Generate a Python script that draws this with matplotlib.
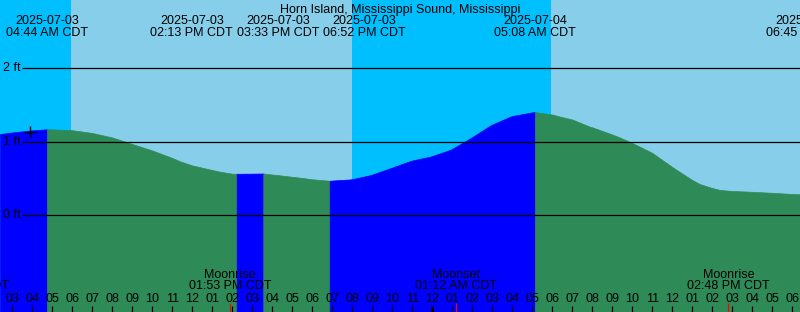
import matplotlib
matplotlib.use("Agg")
import matplotlib.pyplot as plt
import matplotlib.transforms as mtransforms
import numpy as np

TITLE = "Horn Island, Mississippi Sound, Mississippi"

# Hours since 2025-07-03 00:00 CDT and predicted tide height (ft)
sample_hours = [2.385, 3, 4, 5, 6, 7, 8, 9, 10, 11, 11.385, 12, 12.385, 13, 13.385, 14,
                15, 16, 16.385, 17, 17.385, 18, 19, 19.885, 20, 20.885, 21, 21.885, 22,
                22.885, 23, 23.885, 24, 24.885, 25, 25.885, 26, 26.885, 27, 27.885, 28,
                29, 30, 30.385, 31, 31.885, 32, 33, 33.385, 34, 34.885, 35, 36, 36.385,
                37, 37.385, 38, 38.385, 39, 39.885, 40, 41, 42, 42.385]
sample_heights = [1.106, 1.127, 1.156, 1.169, 1.158, 1.120, 1.059, 0.970, 0.882, 0.780,
                  0.735, 0.678, 0.655, 0.616, 0.593, 0.566,
                  0.567, 0.555, 0.544, 0.524, 0.512, 0.490, 0.473, 0.488, 0.492, 0.545,
                  0.555, 0.639, 0.650,
                  0.737, 0.746, 0.797, 0.807, 0.890, 0.905, 1.046, 1.065, 1.219, 1.235,
                  1.341, 1.351,
                  1.401, 1.371, 1.343, 1.303, 1.205, 1.197, 1.099, 1.058, 0.984, 0.865,
                  0.848, 0.657, 0.588,
                  0.480, 0.424, 0.371, 0.345, 0.331, 0.321, 0.320, 0.306, 0.290, 0.286]

# Tide extremes
extreme_hours = [4.733, 14.217, 15.55, 18.867, 29.133, 42.75]
extreme_heights = [1.170, 0.565, 0.569, 0.470, 1.404, 0.28]
extreme_types = ["H", "L", "H", "L", "H", "L"]
extreme_dates = ["2025-07-03", "2025-07-03", "2025-07-03", "2025-07-03", "2025-07-04", "2025-07-04"]
extreme_times = ["04:44 AM CDT", "02:13 PM CDT", "03:33 PM CDT", "06:52 PM CDT",
                 "05:08 AM CDT", "06:45 PM CDT"]

# Night periods (sunset -> sunrise), hours
night_starts = [-4.03, 19.967]
night_ends = [5.917, 29.933]

# Moon events
moon_hours = [0.785, 13.883, 25.2, 38.8]
moon_names = ["Moonset", "Moonrise", "Moonset", "Moonrise"]
moon_times = ["12:47 AM CDT", "01:53 PM CDT", "01:12 AM CDT", "02:48 PM CDT"]

# current-time marker
now_hour = 3.885
now_height = 1.133

grid_levels = [0, 1, 2]
grid_labels = ["0 ft", "1 ft", "2 ft"]

# ---------------- layout ----------------
W, H = 800, 312
X0, X1 = 2.385, 42.385
Y_ZERO_PX, PX_PER_FT = 215.3, 73.5
YTOP = Y_ZERO_PX / PX_PER_FT
YBOT = (Y_ZERO_PX - H) / PX_PER_FT
label_shift_h = [0, -2.245, 0.735, 1.72, 0, 0]

DAY = "#87CEEB"
NIGHT = "#00BFFF"
RISE = "#0000FF"
FALL = "#2E8B57"
FS = 9
plt.rcParams["font.family"] = ["Liberation Sans", "DejaVu Sans"]

fig = plt.figure(figsize=(W / 100, H / 100), dpi=100)
ax = fig.add_axes([0, 0, 1, 1])
ax.set_xlim(X0, X1)
ax.set_ylim(YBOT, YTOP)
ax.axis("off")
ax.add_patch(plt.Rectangle((0, 0), 1, 1, transform=ax.transAxes, color=DAY, zorder=0))
for s, e in zip(night_starts, night_ends):
    ax.axvspan(s, e, color=NIGHT, lw=0, zorder=1)

# combined curve
t_all = list(sample_hours)
v_all = list(sample_heights)
for t, v in zip(extreme_hours, extreme_heights):
    if sample_hours[0] <= t <= sample_hours[-1]:
        t_all.append(t)
        v_all.append(v)
order = np.argsort(t_all)
t_all = np.array(t_all)[order]
v_all = np.array(v_all)[order]

prev = t_all[0]
for et, ety in zip(extreme_hours, extreme_types):
    seg_end = min(et, t_all[-1])
    m = (t_all >= prev) & (t_all <= seg_end)
    if m.sum() >= 2:
        col = RISE if ety == "H" else FALL
        ax.fill_between(t_all[m], YBOT, v_all[m], color=col, lw=0.5, ec=col, zorder=2)
    prev = seg_end
    if prev >= t_all[-1]:
        break

# grid lines
gx0 = X0 + 22 / 20.0
ax.hlines(grid_levels, gx0, X1, color="black", lw=0.9, zorder=3)
for lv, lb in zip(grid_levels, grid_labels):
    ax.text(X0 + 3 / 20.0, lv, lb, ha="left", va="center", fontsize=FS, zorder=4)

ax.plot([now_hour], [now_height], marker="+", ms=9, mew=1, color="black", zorder=4)

bt = mtransforms.blended_transform_factory(ax.transData, fig.transFigure)


def fy(px):
    return 1 - px / H


fig.text(0.5, fy(13), TITLE, ha="center", va="baseline", fontsize=FS)
for t, d, tm, sh in zip(extreme_hours, extreme_dates, extreme_times, label_shift_h):
    ax.text(t + sh, fy(24), d, transform=bt, ha="center", va="baseline", fontsize=FS, zorder=5)
    ax.text(t + sh, fy(36), tm, transform=bt, ha="center", va="baseline", fontsize=FS, zorder=5)

# hour ticks & labels
for hr in range(int(np.ceil(X0)), int(np.floor(X1)) + 1):
    lw = 2.0 if hr % 24 == 0 else 0.9
    ax.vlines(hr, fy(312), fy(306), transform=bt, color="black", lw=lw, zorder=5)
    lab = "%02d" % ((hr % 12) or 12)
    ax.text(hr, fy(301.7), lab, transform=bt, ha="center", va="baseline", fontsize=FS, zorder=5)

for t, n, tm in zip(moon_hours, moon_names, moon_times):
    ax.vlines(t, fy(312), fy(303), transform=bt, color="red", lw=0.9, zorder=5)
    ax.text(t, fy(278), n, transform=bt, ha="center", va="baseline", fontsize=FS, zorder=5)
    ax.text(t, fy(289.3), tm, transform=bt, ha="center", va="baseline", fontsize=FS, zorder=5)

fig.savefig("out.png", dpi=100)
